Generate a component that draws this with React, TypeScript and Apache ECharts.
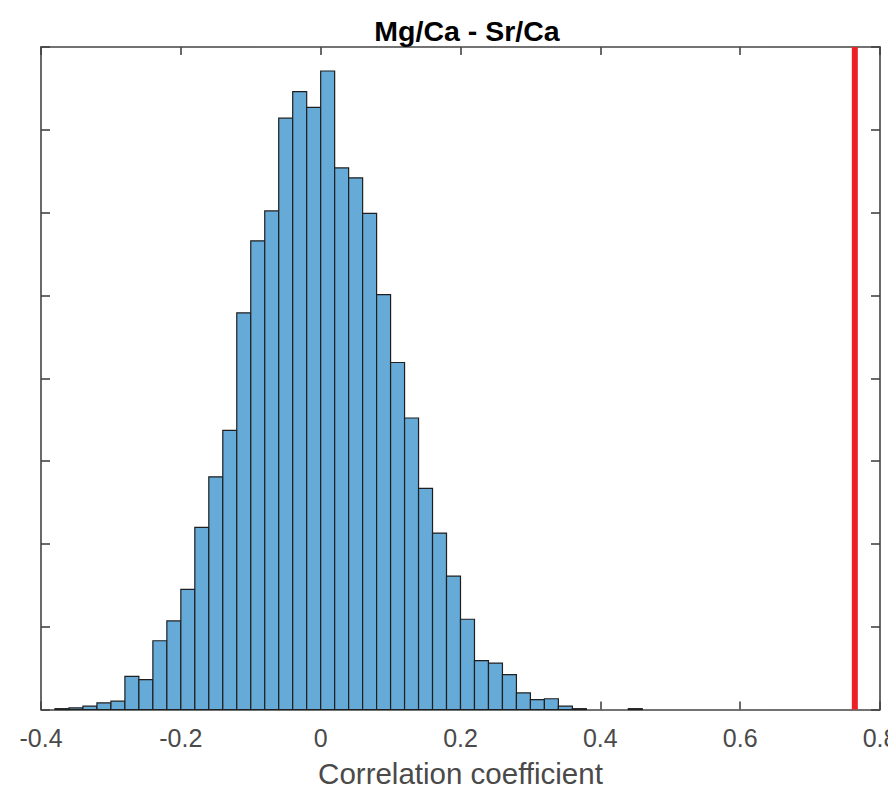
import React, { useEffect, useRef } from "react";
import * as echarts from "echarts";

// Histogram of correlation coefficients (bin width 0.02, first bin starts at -0.38)
const binStart = -0.38;
const binWidth = 0.02;
const counts = [
  1, 2, 4, 8, 10, 40, 36, 83, 107, 145,
  220, 281, 337, 479, 566, 602, 714, 746, 727, 771,
  654, 642, 599, 501, 419, 352, 267, 213, 161, 109,
  59, 56, 42, 20, 12, 13, 4, 1, 0, 0, 0, 1,
];
const observedCorrelation = 0.764;
const xTicks = [-0.4, -0.2, 0, 0.2, 0.4, 0.6, 0.8];
const titleText = "Mg/Ca - Sr/Ca";
const xLabel = "Correlation coefficient";

const FONT = "'Liberation Sans', Arial, Helvetica, sans-serif";
const AXIS_COLOR = "#444444";

export default function App() {
  const ref = useRef<HTMLDivElement>(null);

  useEffect(() => {
    if (!ref.current) return;
    const chart = echarts.init(ref.current, undefined, { renderer: "svg" });

    const bars = counts.map((c, i) => {
      const lo = +(binStart + i * binWidth).toFixed(4);
      const hi = +(lo + binWidth).toFixed(4);
      return [lo, hi, c];
    });

    const fmt = (v: number) => {
      const r = Math.round(v * 10) / 10;
      return r === 0 ? "0" : String(r);
    };

    const axisCommon = {
      axisLine: { show: true, onZero: false, lineStyle: { color: AXIS_COLOR, width: 1.6 } },
      splitLine: { show: false },
    };

    chart.setOption({
      animation: false,
      backgroundColor: "#ffffff",
      title: {
        text: titleText,
        left: 462,
        textAlign: "center",
        top: 11,
        textStyle: { fontFamily: FONT, fontSize: 28.5, fontWeight: "bold", color: "#000000" },
      },
      grid: {
        left: 41,
        top: 47,
        right: 8,
        bottom: 79.5,
        containLabel: false,
        outerBoundsMode: "none",
      },
      xAxis: [
        {
          type: "value",
          min: xTicks[0],
          max: xTicks[xTicks.length - 1],
          interval: 0.2,
          position: "bottom",
          ...axisCommon,
          axisTick: { show: true, inside: true, length: 8, lineStyle: { color: AXIS_COLOR, width: 1.6 } },
          axisLabel: {
            show: true,
            margin: 16,
            formatter: fmt,
            fontFamily: FONT,
            fontSize: 25,
            color: "#4a4a4a",
            showMinLabel: true,
            showMaxLabel: true,
            hideOverlap: false,
          },
          name: xLabel,
          nameLocation: "middle",
          nameGap: 49,
          nameTextStyle: { fontFamily: FONT, fontSize: 29.5, color: "#4a4a4a" },
        },
        {
          type: "value",
          min: xTicks[0],
          max: xTicks[xTicks.length - 1],
          interval: 0.2,
          position: "top",
          ...axisCommon,
          axisTick: { show: true, inside: true, length: 8, lineStyle: { color: AXIS_COLOR, width: 1.6 } },
          axisLabel: { show: false },
        },
      ],
      yAxis: [
        {
          type: "value",
          min: 0,
          max: 800,
          interval: 100,
          position: "left",
          ...axisCommon,
          axisTick: { show: true, inside: true, length: 9, lineStyle: { color: AXIS_COLOR, width: 1.6 } },
          axisLabel: { show: false },
        },
        {
          type: "value",
          min: 0,
          max: 800,
          interval: 100,
          position: "right",
          ...axisCommon,
          axisTick: { show: true, inside: true, length: 9, lineStyle: { color: AXIS_COLOR, width: 1.6 } },
          axisLabel: { show: false },
        },
      ],
      series: [
        {
          type: "custom",
          xAxisIndex: 0,
          yAxisIndex: 0,
          data: bars,
          encode: { x: [0, 1], y: 2 },
          renderItem: (params: any, api: any) => {
            const lo = api.value(0);
            const hi = api.value(1);
            const c = api.value(2);
            if (!c) return null;
            const p0 = api.coord([lo, c]);
            const p1 = api.coord([hi, 0]);
            return {
              type: "rect",
              shape: { x: p0[0], y: p0[1], width: p1[0] - p0[0], height: p1[1] - p0[1] },
              style: { fill: "#66AAD7", stroke: "#1f1f1f", lineWidth: 1.2 },
            };
          },
          z: 3,
        },
        {
          type: "line",
          xAxisIndex: 0,
          yAxisIndex: 0,
          data: [
            [observedCorrelation, 0],
            [observedCorrelation, 800],
          ],
          symbol: "none",
          lineStyle: { color: "#EE2027", width: 6 },
          z: 4,
        },
      ],
    });

    return () => chart.dispose();
  }, []);

  return (
    <div
      ref={ref}
      style={{ position: "fixed", left: 0, top: 0, width: 888, height: 789, background: "#fff" }}
    />
  );
}
